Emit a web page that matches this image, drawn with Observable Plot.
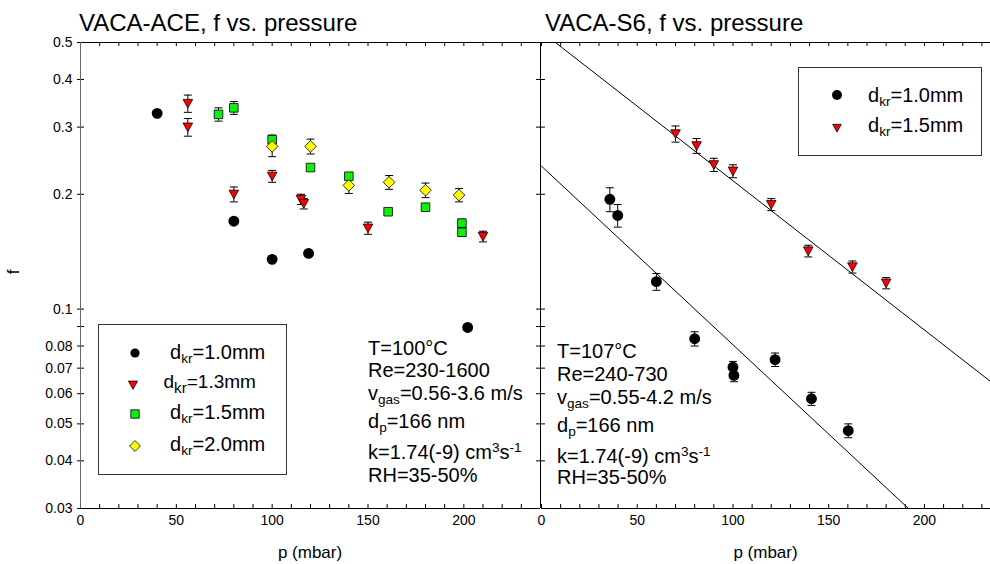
<!DOCTYPE html>
<html><head><meta charset="utf-8">
<script src="https://cdn.jsdelivr.net/npm/d3@7"></script>
<script src="https://cdn.jsdelivr.net/npm/@observablehq/plot@0.6"></script>
<style>
body{margin:0;background:#fff;font-family:"Liberation Sans",Arial,Helvetica,sans-serif;color:#000;}
#wrap{position:relative;width:990px;height:564px;overflow:hidden;background:#fff;}
.abs{position:absolute;white-space:nowrap;}
.title{font-size:24px;line-height:24px;}
.ann{font-size:20px;line-height:20px;}
.leg{font-size:20px;line-height:20px;}
sub,sup{font-size:68%;line-height:0;}
sub{vertical-align:-0.3em;}
sup{vertical-align:0.55em;}
.box{position:absolute;border:1px solid #333;box-sizing:border-box;}
.sym{position:absolute;overflow:visible;}
.axl{font-size:17px;line-height:18px;}
#wrap svg text{font-size:14px !important;font-family:"Liberation Sans",Arial,sans-serif !important;fill:#000;}
</style></head>
<body><div id="wrap"></div>
<script>
// ---------- data: VACA-ACE (left panel) ----------
const aceP10 = [40, 80, 100, 119, 202];
const aceF10 = [0.326, 0.170, 0.135, 0.140, 0.0895];

const aceP13 = [56, 56, 80, 100, 115, 116.5, 150, 210];
const aceF13 = [0.346, 0.300, 0.200, 0.223, 0.194, 0.189, 0.163, 0.155];
const aceE13 = [0.018, 0.016, 0.009, 0.008, 0.006, 0.006, 0.006, 0.005];

const aceP15 = [72, 80, 100, 120, 140, 160.5, 180, 199, 199];
const aceF15 = [0.324, 0.337, 0.278, 0.235, 0.223, 0.180, 0.185, 0.168, 0.159];
const aceE15 = [0.013, 0.013, 0.008, 0, 0, 0, 0, 0.004, 0.004];

const aceP20 = [100, 120, 140, 161, 180, 197.5];
const aceF20 = [0.267, 0.267, 0.211, 0.215, 0.205, 0.199];
const aceE20 = [0.016, 0.012, 0.010, 0.009, 0.009, 0.008];

// ---------- data: VACA-S6 (right panel) ----------
const s6P10 = [35.7, 39.8, 60, 80, 100, 100.5, 122, 141, 160.2];
const s6F10 = [0.194, 0.176, 0.118, 0.0836, 0.0704, 0.0670, 0.0737, 0.0582, 0.048];
const s6E10 = [0.014, 0.012, 0.006, 0.0036, 0.0025, 0.0025, 0.003, 0.0023, 0.002];

const s6P15 = [70, 81, 90, 100, 120, 139.3, 162.4, 180];
const s6F15 = [0.288, 0.268, 0.239, 0.230, 0.188, 0.142, 0.129, 0.117];
const s6E15 = [0.014, 0.012, 0.0095, 0.009, 0.0068, 0.005, 0.0047, 0.004];

// fitted lines (end points)
const fitP = [0, 234.5];
const fit10F = [0.237, 0.0189];
const fit15F = [0.534, 0.0646];

// ---------- ticks ----------
const yTicks = [0.03, 0.04, 0.05, 0.06, 0.07, 0.08, 0.09, 0.1, 0.2, 0.3, 0.4, 0.5];
const yTickLabels = ["0.03","0.04","0.05","0.06","0.07","0.08","0.09","0.1","0.2","0.3","0.4","0.5"];
const xMajor = [0, 50, 100, 150, 200];
const xMinor = [0,10,20,30,40,50,60,70,80,90,100,110,120,130,140,150,160,170,180,190,200,210,220,230,240];

// ---------- helpers ----------
const rows = (P, F, E) => P.map((p, i) => ({p, f: F[i], e: E ? E[i] : 0}));
const sz = s => Math.sqrt(s / Math.PI);
const triDown = {draw(c, s){const r = sz(s); c.moveTo(-r, -r*0.85); c.lineTo(r, -r*0.85); c.lineTo(0, r*0.95); c.closePath();}};
const sq = {draw(c, s){const r = sz(s); c.rect(-r, -r, 2*r, 2*r);}};
const dia = {draw(c, s){const r = sz(s); c.moveTo(0,-r); c.lineTo(r,0); c.lineTo(0,r); c.lineTo(-r,0); c.closePath();}};
const cap = {draw(c, s){const r = sz(s); c.moveTo(-r, 0); c.lineTo(r, 0);}};

const H = 564, MT = 42, MB = 56, PH = H - MT - MB;
const GREEN = "#11ee11", YELLOW = "#ffff00", RED = "#ff0000";
const FONT = "'Liberation Sans', Arial, sans-serif";

function errMarks(data) {
  const d = data.filter(r => r.e > 0);
  return [
    Plot.ruleX(d, {x: "p", y1: r => r.f - r.e, y2: r => r.f + r.e, stroke: "#000", strokeWidth: 1}),
    Plot.dot(d, {x: "p", y: r => r.f + r.e, symbol: cap, r: 4, stroke: "#000", strokeWidth: 1, fill: "none"}),
    Plot.dot(d, {x: "p", y: r => r.f - r.e, symbol: cap, r: 4, stroke: "#000", strokeWidth: 1, fill: "none"})
  ];
}
function frameTicks(xmax, PW) {
  const xs = xMinor.filter(v => v <= xmax);
  return [
    Plot.ruleX(xs, {x: d => d, insetTop: PH - 4, stroke: "#000"}),
    Plot.ruleX(xs, {x: d => d, insetBottom: PH - 4, stroke: "#000"}),
    Plot.ruleY(yTicks, {y: d => d, insetRight: PW - 4, stroke: "#000"}),
    Plot.ruleY([0.03, 0.5], {y: d => d, stroke: "#000"}),
    Plot.axisX({ticks: xMajor, tickSize: 0, tickPadding: 7, label: null, fontSize: 14, fontFamily: FONT,
      fill: "#000", tickFormat: d => String(d)})
  ];
}
const style = {fontFamily: FONT, fontSize: "14px", background: "transparent", overflow: "visible", color: "#000"};

// ---------- left panel ----------
const ace10 = rows(aceP10, aceF10), ace13 = rows(aceP13, aceF13, aceE13),
      ace15 = rows(aceP15, aceF15, aceE15), ace20 = rows(aceP20, aceF20, aceE20);
const left = Plot.plot({
  width: 541, height: H, marginLeft: 80, marginRight: 1, marginTop: MT, marginBottom: MB,
  x: {domain: [0, 240], axis: null},
  y: {type: "log", domain: [0.03, 0.5], axis: null},
  style,
  marks: [
    ...frameTicks(240, 460),
    Plot.ruleY(yTicks, {y: d => d, insetLeft: 460 - 4, stroke: "#000"}),
    Plot.ruleY(yTicks, {y: d => d, insetLeft: -3, insetRight: 460, stroke: "#000"}),
    Plot.ruleX([0], {x: d => d, stroke: "#666"}),
    Plot.ruleX([240], {x: d => d, stroke: "#000"}),
    Plot.axisY({ticks: yTicks, tickSize: 0, tickPadding: 8, label: null, fontSize: 14, fontFamily: FONT, fill: "#000",
      tickFormat: d => yTickLabels[yTicks.indexOf(d)]}),
    ...errMarks(ace13), ...errMarks(ace15), ...errMarks(ace20),
    Plot.dot(ace10, {x: "p", y: "f", r: 4.7, fill: "#000", stroke: "#000"}),
    Plot.dot(ace13, {x: "p", y: "f", r: 4.8, symbol: triDown, fill: RED, stroke: "#000", strokeWidth: 0.8}),
    Plot.dot(ace15, {x: "p", y: "f", r: 4.3, symbol: sq, fill: GREEN, stroke: "#000", strokeWidth: 0.8}),
    Plot.dot(ace20, {x: "p", y: "f", r: 5.8, symbol: dia, fill: YELLOW, stroke: "#000", strokeWidth: 0.8})
  ]
});

// ---------- right panel ----------
const s610 = rows(s6P10, s6F10, s6E10), s615 = rows(s6P15, s6F15, s6E15);
const right = Plot.plot({
  width: 450, height: H, marginLeft: 1, marginRight: 0, marginTop: MT, marginBottom: MB,
  x: {domain: [0, 234.5], axis: null},
  y: {type: "log", domain: [0.03, 0.5], axis: null},
  style,
  marks: [
    ...frameTicks(230, 449),
    Plot.line(fitP.map((p, i) => ({p, f: fit10F[i]})), {x: "p", y: "f", stroke: "#000", strokeWidth: 1, clip: true}),
    Plot.line(fitP.map((p, i) => ({p, f: fit15F[i]})), {x: "p", y: "f", stroke: "#000", strokeWidth: 1, clip: true}),
    ...errMarks(s610), ...errMarks(s615),
    Plot.dot(s610, {x: "p", y: "f", r: 4.7, fill: "#000", stroke: "#000"}),
    Plot.dot(s615, {x: "p", y: "f", r: 4.8, symbol: triDown, fill: RED, stroke: "#000", strokeWidth: 0.8})
  ]
});

const wrap = document.getElementById("wrap");
left.style.position = "absolute"; left.style.left = "0px"; left.style.top = "0px";
right.style.position = "absolute"; right.style.left = "540px"; right.style.top = "0px";
wrap.appendChild(left); wrap.appendChild(right);
[left, right].forEach(svg => svg.querySelectorAll("text").forEach(t => { t.style.fontSize = "14px"; }));

// ---------- text, legends ----------
function addText(html, x, yc, cls, extra) {
  const d = document.createElement("div");
  d.className = "abs " + cls;
  d.innerHTML = html;
  d.style.left = x + "px";
  d.style.top = yc + "px";
  d.style.transform = "translateY(-50%)";
  if (extra) Object.assign(d.style, extra);
  wrap.appendChild(d);
  return d;
}
addText("VACA-ACE, f vs. pressure", 79, 23, "title");
addText("VACA-S6, f vs. pressure", 545, 23, "title");

const annL = ["T=100°C", "Re=230-1600", "v<sub>gas</sub>=0.56-3.6 m/s", "d<sub>p</sub>=166 nm", "k=1.74(-9) cm<sup>3</sup>s<sup>-1</sup>", "RH=35-50%"];
const annLy = [348, 370, 392.5, 421, 452, 475];
annL.forEach((t, i) => addText(t, 368, annLy[i], "ann"));
const annR = ["T=107°C", "Re=240-730", "v<sub>gas</sub>=0.55-4.2 m/s", "d<sub>p</sub>=166 nm", "k=1.74(-9) cm<sup>3</sup>s<sup>-1</sup>", "RH=35-50%"];
const annRy = [351, 374, 396.5, 425, 455.5, 477];
annR.forEach((t, i) => addText(t, 557, annRy[i], "ann"));

// axis titles
addText("p (mbar)", 310, 553, "axl", {transform: "translate(-50%,-50%)"});
addText("p (mbar)", 765.5, 553, "axl", {transform: "translate(-50%,-50%)"});
addText("f", 14, 272, "axl", {transform: "translate(-50%,-50%) rotate(-90deg)"});

// legend boxes
function box(x, y, w, h) {
  const b = document.createElement("div");
  b.className = "box";
  Object.assign(b.style, {left: x + "px", top: y + "px", width: w + "px", height: h + "px"});
  wrap.appendChild(b);
}
function sym(kind, cx, cy, s) {
  const ns = "http://www.w3.org/2000/svg";
  const svg = document.createElementNS(ns, "svg");
  svg.setAttribute("class", "sym");
  svg.setAttribute("width", 20); svg.setAttribute("height", 20);
  svg.style.left = (cx - 10) + "px"; svg.style.top = (cy - 10) + "px";
  let el;
  if (kind === "circle") { el = document.createElementNS(ns, "circle"); el.setAttribute("cx", 10); el.setAttribute("cy", 10); el.setAttribute("r", s); el.setAttribute("fill", "#000"); }
  else {
    el = document.createElementNS(ns, "path");
    let d;
    if (kind === "tri") d = `M${10-s},${10-s*0.85}L${10+s},${10-s*0.85}L10,${10+s*0.95}Z`;
    if (kind === "sq") d = `M${10-s},${10-s}h${2*s}v${2*s}h${-2*s}Z`;
    if (kind === "dia") d = `M10,${10-s}L${10+s},10L10,${10+s}L${10-s},10Z`;
    el.setAttribute("d", d);
    el.setAttribute("fill", kind === "tri" ? RED : kind === "sq" ? GREEN : YELLOW);
    el.setAttribute("stroke", "#000"); el.setAttribute("stroke-width", 0.8);
  }
  svg.appendChild(el);
  wrap.appendChild(svg);
}
box(97.5, 324, 189.5, 150.5);
sym("circle", 135, 353, 4.6); addText("d<sub>kr</sub>=1.0mm", 170, 352, "leg");
sym("tri", 133.3, 385, 4.6);  addText("d<sub style='font-size:80%'>kr</sub>=1.3mm", 163.5, 381.5, "leg", {fontSize: "19px"});
sym("sq", 135, 414, 4.2);     addText("d<sub>kr</sub>=1.5mm", 170, 412, "leg");
sym("dia", 135, 446, 5.4);    addText("d<sub>kr</sub>=2.0mm", 170, 444, "leg");

box(798, 67, 184, 89);
sym("circle", 836.7, 95, 5); addText("d<sub>kr</sub>=1.0mm", 868, 95, "leg");
sym("tri", 836.7, 128, 4.3); addText("d<sub>kr</sub>=1.5mm", 868, 125, "leg");
</script>
</body></html>
